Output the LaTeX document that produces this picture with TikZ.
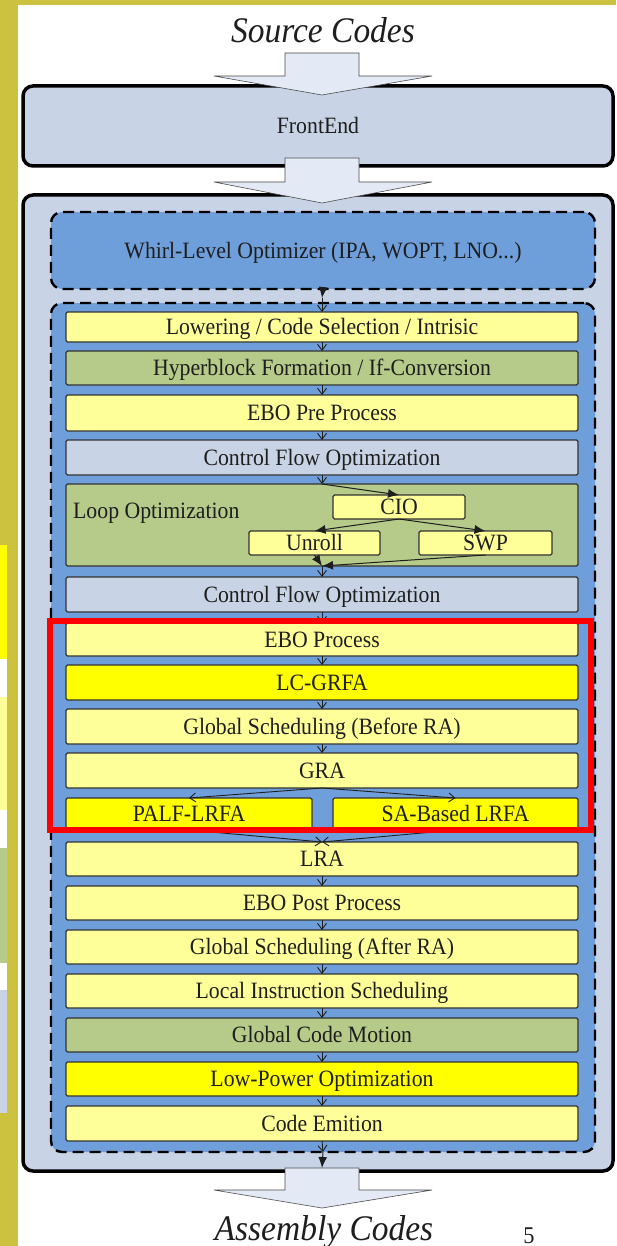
\documentclass[tikz,border=0pt]{standalone}
\usepackage{fontspec}
\setmainfont[FakeStretch=0.93]{Liberation Serif}
\usetikzlibrary{arrows.meta}
\definecolor{slideolive}{HTML}{CDC23F}
\definecolor{panelgray}{HTML}{C8D4E5}
\definecolor{optblue}{HTML}{6F9FDB}
\definecolor{paleyellow}{HTML}{FFFF99}
\definecolor{brightyellow}{HTML}{FFFF00}
\definecolor{phasegreen}{HTML}{B6CA8A}
\definecolor{arrowfill}{HTML}{E3EAF5}
\definecolor{inktext}{HTML}{1E1E1E}
\newcommand{\passfont}{\fontsize{23.4}{26}\selectfont}
\tikzset{
  stagebox/.style={draw=black, line width=3.5pt, rounded corners=10pt, fill=panelgray,
    inner sep=0pt, outer sep=0pt, text=inktext, font=\passfont, text height=15.5pt, text depth=0pt},
  groupbox/.style={draw=black, line width=2.4pt, dash pattern=on 11pt off 6pt,
    rounded corners=11pt, fill=optblue, inner sep=0pt, outer sep=0pt,
    text=inktext, font=\passfont, text height=15.5pt, text depth=0pt},
  passbox/.style={draw=black!80, line width=1.1pt, rounded corners=1.5pt,
    minimum width=512pt, minimum height=34pt, inner sep=0pt, outer sep=0pt,
    text=inktext, font=\passfont, text height=15.5pt, text depth=0pt},
  subbox/.style={passbox, minimum width=131pt, minimum height=24pt},
  flow/.style={draw=inktext, line width=0.9pt, -{Straight Barb[length=6pt,width=9pt]}},
  branch/.style={draw=inktext, line width=1pt, -{Latex[length=11pt,width=9pt]}},
  blockarrow/.style={draw=black!70, line width=0.6pt, fill=arrowfill},
  bigitalic/.style={text=inktext, font=\fontsize{36}{42}\selectfont\itshape, anchor=base, inner sep=0pt},
}
\begin{document}
\begin{tikzpicture}[x=1pt,y=-1pt]
\useasboundingbox (0,0) rectangle (616,1246);
% slide background and side strip
\fill[slideolive] (0,0) rectangle (616,1246);
\fill[white] (18,5) rectangle (616,1246);
\fill[brightyellow] (0,545) rectangle (7,659);
\fill[white] (0,659) rectangle (7,697);
\fill[paleyellow] (0,697) rectangle (7,810);
\fill[white] (0,810) rectangle (7,848);
\fill[phasegreen] (0,848) rectangle (7,963);
\fill[white] (0,963) rectangle (7,990);
\fill[panelgray] (0,990) rectangle (7,1113);

% compiler stages
\node[stagebox, minimum width=590pt, minimum height=80pt] (front) at (318,126) {FrontEnd};
\node[stagebox, minimum width=590pt, minimum height=976pt] (back) at (318,683) {};
\node[groupbox, minimum width=544pt, minimum height=77pt] (whirl) at (323,250.5) {Whirl-Level Optimizer (IPA, WOPT, LNO...)};
\node[groupbox, minimum width=544pt, minimum height=849pt] (cg) at (323,727.5) {};

% code generator passes
\node[passbox, fill=paleyellow, minimum height=30pt] (lower) at (322,327) {Lowering / Code Selection / Intrisic};
\node[passbox, fill=phasegreen] (hyper) at (322,368) {Hyperblock Formation / If-Conversion};
\node[passbox, fill=paleyellow, minimum height=36pt] (ebopre) at (322,413) {EBO Pre Process};
\node[passbox, fill=panelgray, minimum height=35pt] (cfoa) at (322,457.5) {Control Flow Optimization};
\node[passbox, fill=phasegreen, minimum height=82pt] (loop) at (322,525) {};
\node[anchor=west, inner sep=0pt, text=inktext, font=\passfont, text height=15.5pt, text depth=0pt] (looplabel) at (73,511) {Loop Optimization};
\node[subbox, fill=paleyellow, minimum width=132pt] (cio) at (399,507) {CIO};
\node[subbox, fill=paleyellow] (unroll) at (314.5,543) {Unroll};
\node[subbox, fill=paleyellow, minimum width=133pt] (swp) at (485.5,543) {SWP};
\node[passbox, fill=panelgray, minimum height=35pt] (cfob) at (322,594.5) {Control Flow Optimization};
\node[passbox, fill=paleyellow, minimum height=33pt] (ebo) at (322,639.5) {EBO Process};
\node[passbox, fill=brightyellow, minimum height=35pt] (lcgrfa) at (322,682.5) {LC-GRFA};
\node[passbox, fill=paleyellow, minimum height=35pt] (gsbefore) at (322,726.5) {Global Scheduling (Before RA)};
\node[passbox, fill=paleyellow, minimum height=35pt] (gra) at (322,770.5) {GRA};
\node[passbox, fill=brightyellow, minimum width=246pt, minimum height=32pt] (palf) at (189,814) {PALF-LRFA};
\node[passbox, fill=brightyellow, minimum width=245pt, minimum height=32pt] (salrfa) at (455.5,814) {SA-Based LRFA};
\node[passbox, fill=paleyellow] (lra) at (322,859) {LRA};
\node[passbox, fill=paleyellow] (ebopost) at (322,903) {EBO Post Process};
\node[passbox, fill=paleyellow] (gsafter) at (322,947) {Global Scheduling (After RA)};
\node[passbox, fill=paleyellow] (lis) at (322,991) {Local Instruction Scheduling};
\node[passbox, fill=phasegreen] (gcm) at (322,1035) {Global Code Motion};
\node[passbox, fill=brightyellow] (lpo) at (322,1079) {Low-Power Optimization};
\node[passbox, fill=paleyellow, minimum height=35pt] (emit) at (322,1123.5) {Code Emition};

% connectors
\coordinate (whirlout) at (322,298);
\coordinate (cgout) at (322,1168);
\draw[branch] (whirl.south) -- (whirlout);
\draw[flow] (whirlout) -- (lower.north);
\draw[flow] (lower) -- (hyper);
\draw[flow] (hyper) -- (ebopre);
\draw[flow] (ebopre) -- (cfoa);
\draw[flow] (cfoa) -- (loop.north);
\draw[branch] (loop.north) -- (cio.north);
\draw[branch] (cio.south) -- (unroll.north);
\draw[branch] (cio.south) -- (swp.north);
\draw[branch] (unroll.south) -- (loop.south);
\draw[branch] (swp.south) -- (loop.south);
\draw[flow] (loop.south) -- (cfob.north);
\draw[flow] (cfob) -- (ebo);
\draw[flow] (ebo) -- (lcgrfa);
\draw[flow] (lcgrfa) -- (gsbefore);
\draw[flow] (gsbefore) -- (gra);
\draw[flow] (gra.south) -- (palf.north);
\draw[flow] (gra.south) -- (salrfa.north);
\draw[flow] (palf.south) -- (lra.north);
\draw[flow] (salrfa.south) -- (lra.north);
\draw[flow] (lra) -- (ebopost);
\draw[flow] (ebopost) -- (gsafter);
\draw[flow] (gsafter) -- (lis);
\draw[flow] (lis) -- (gcm);
\draw[flow] (gcm) -- (lpo);
\draw[flow] (lpo) -- (emit);
\draw[flow] (emit.south) -- (cg.south);
\draw[branch] (cg.south) -- (cgout);

% register allocation framework highlight
\draw[red, line width=6pt] (50,620.5) rectangle (591,830);

% block arrows between stages
\draw[blockarrow] (285,53) -- (359,53) -- (359,76) -- (432,76) -- (322,95) -- (214,76) -- (285,76) -- cycle;
\draw[blockarrow] (285,158) -- (359,158) -- (359,182) -- (432,182) -- (322,203) -- (214,182) -- (285,182) -- cycle;
\draw[blockarrow] (285,1168) -- (359,1168) -- (359,1190) -- (432,1190) -- (322,1208) -- (214,1190) -- (285,1190) -- cycle;

% input / output labels
\node[bigitalic] (src) at (323,43) {Source Codes};
\node[bigitalic] (asm) at (324,1240) {Assembly Codes};
\node[anchor=base, inner sep=0pt, text=inktext, font=\fontsize{24}{27}\selectfont] (pageno) at (529,1243) {5};
\end{tikzpicture}
\end{document}
